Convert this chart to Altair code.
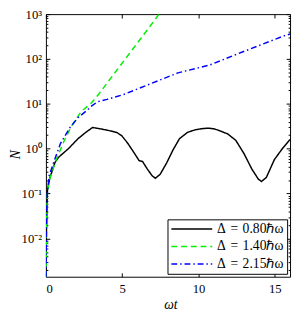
import altair as alt
import pandas as pd

# ---- data ----
t_black = [0.01, 0.03, 0.06, 0.1, 0.25, 0.42, 0.6, 0.84, 1.47, 2.1, 2.6, 3.06, 3.5, 4.0, 4.32, 4.64,
           4.96, 5.38, 5.8, 6.11, 6.33, 6.65, 6.96, 7.17, 7.49, 7.91, 8.33, 8.75, 9.28, 9.8, 10.3,
           10.65, 11.0, 11.28, 11.92, 12.44, 12.97, 13.5, 13.92, 14.13, 14.45, 14.97, 15.5, 16.0]
n_black = [0.0014, 0.012, 0.045, 0.12, 0.22, 0.33, 0.5, 0.65, 1.0, 1.67, 2.3, 2.97, 2.8, 2.6, 2.45, 2.3,
           1.97, 1.3, 0.79, 0.54, 0.52, 0.35, 0.25, 0.22, 0.27, 0.48, 0.94, 1.67, 2.32, 2.65, 2.82,
           2.87, 2.78, 2.6, 2.13, 1.54, 0.79, 0.35, 0.21, 0.186, 0.23, 0.57, 1.01, 1.6]

t_green = [0.01, 0.03, 0.06, 0.1, 0.21, 0.63, 1.16, 1.68, 2.32, 2.95, 3.48, 6.54, 7.38, 7.6]
n_green = [0.0014, 0.012, 0.045, 0.1, 0.195, 0.52, 1.41, 3.23, 6.8, 10.2, 16.8, 400, 960, 1200]

t_blue = [0.01, 0.03, 0.06, 0.1, 0.21, 0.53, 0.95, 1.58, 2.1, 2.74, 2.95, 3.37, 4.0, 5.06, 6.54,
          8.65, 10.76, 12.87, 15.6, 16.0]
n_blue = [0.0014, 0.013, 0.05, 0.11, 0.25, 0.52, 1.3, 2.97, 4.9, 7.4, 8.7, 11.1, 12.6, 16.0, 25.4,
          49, 74, 143, 328, 360]

series_labels = ["Δ\u2004=\u20040.80ℏω\u2002", "Δ\u2004=\u20041.40ℏω\u2002", "Δ\u2004=\u20042.15ℏω\u2002"]
series_colors = ["#000000", "#00ee00", "#0000ff"]
series_dashes = [[1, 0], [6, 4], [6, 3, 1.5, 3]]

x_ticks = [0, 5, 10, 15]
y_ticks = [m * 10.0 ** e for e in range(-3, 3) for m in range(1, 10)] + [1000.0]
y_ticks = [v for v in y_ticks if v >= 0.0014]

rows = []
for lab, ts, ns in zip(series_labels, [t_black, t_green, t_blue], [n_black, n_green, n_blue]):
    for t, n in zip(ts, ns):
        rows.append({"series": lab, "t": t, "N": n})
df = pd.DataFrame(rows)

FONT = "Liberation Serif"
is_major = "abs(log(datum.value)/LN10 - round(log(datum.value)/LN10)) < 0.001"
ytick_expr = f"{is_major} ? -4 : -2"
ylabel_expr = (f"{is_major} ? '10' + ['⁻³','⁻²','⁻¹','⁰','¹','²','³']"
               "[round(log(datum.value)/LN10) + 3] : ''")

xscale = alt.Scale(domain=[0, 16], nice=False, zero=False)
yscale = alt.Scale(type="log", domain=[0.0014, 1000], nice=False)

legend = alt.Legend(
    title=None, orient="bottom-right", offset=3, strokeColor="black", fillColor="white",
    padding=3, symbolType="M-4,0H4", symbolSize=110.25, symbolStrokeWidth=1.5,
    symbolOffset=15, labelOffset=19,
    labelFont=FONT, labelFontSize=14, rowPadding=4, labelColor="black",
)

lines = alt.Chart(df).mark_line(strokeWidth=1.5, clip=True).encode(
    x=alt.X("t:Q", scale=xscale,
            axis=alt.Axis(orient="bottom", values=x_ticks, title="ωt", tickSize={"expr": "-4"},
                          labelPadding=9.8, domain=False, grid=False, titleX=128, titleY=32.5,
                          titleBaseline="alphabetic", titleAlign="center")),
    y=alt.Y("N:Q", scale=yscale,
            axis=alt.Axis(orient="left", values=y_ticks, title="N", tickSize={"expr": ytick_expr},
                          labelExpr=ylabel_expr, labelPadding=8.5, domain=False, grid=False,
                          titleX=-27, titleY=144, titleAngle=270, titleBaseline="alphabetic",
                          titleAlign="center")),
    color=alt.Color("series:N", scale=alt.Scale(domain=series_labels, range=series_colors),
                    legend=legend),
    strokeDash=alt.StrokeDash("series:N", scale=alt.Scale(domain=series_labels, range=series_dashes),
                              legend=legend),
)

mirror = alt.Chart(df).mark_point(opacity=0).encode(
    x=alt.X("t:Q", scale=xscale,
            axis=alt.Axis(orient="top", values=x_ticks, labels=False, tickSize={"expr": "-4"},
                          domain=False, grid=False, title=None)),
    y=alt.Y("N:Q", scale=yscale,
            axis=alt.Axis(orient="right", values=y_ticks, labels=False,
                          tickSize={"expr": ytick_expr}, domain=False, grid=False, title=None)),
)

chart = alt.layer(lines, mirror).properties(
    width=251, height=270, background="white",
    autosize=alt.AutoSizeParams(type="none"),
    padding={"left": 39, "top": 2, "right": 2, "bottom": 34},
).configure_view(
    stroke="black", strokeWidth=1
).configure_axis(
    labelFont=FONT, labelFontSize=13, labelColor="black", tickColor="black", tickWidth=1,
    titleFont=FONT, titleFontSize=14, titleFontStyle="italic", titleFontWeight="normal",
    titleColor="black",
)

chart.save("out.html", embed_options={"renderer": "svg", "actions": False})
